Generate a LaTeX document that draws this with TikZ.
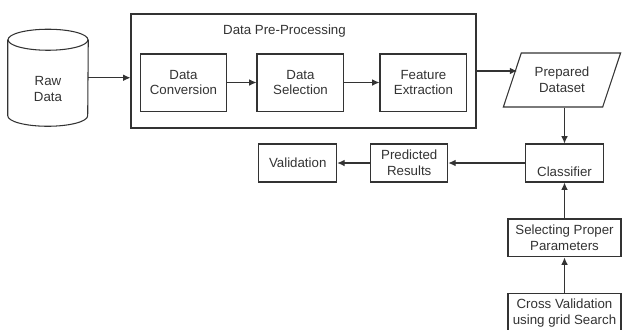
\documentclass[tikz,border=0pt]{standalone}
\usepackage{fontspec}
\setmainfont{Liberation Sans}
\usetikzlibrary{arrows.meta,shapes.geometric,positioning}

\tikzset{
  stage/.style={draw, line width=0.8pt, minimum width=2.3cm, minimum height=1.51cm, align=center, inner sep=2pt},
  result/.style={draw, line width=0.8pt, minimum width=2.04cm, minimum height=1.005cm, align=center, inner sep=2pt},
  flow/.style={->, line width=0.8pt},
}

\begin{document}
\begin{tikzpicture}[>={Latex[length=5.5pt,width=5pt]}, font=\fontsize{10}{12}\selectfont, color=black!80]
  \useasboundingbox (0,0) rectangle (16.457,-8.705);

  % database drum
  \node[minimum width=2.117cm, minimum height=2.553cm, inner sep=0pt] (raw) at (1.27,-2.057) {};
  \draw[line width=0.8pt] ([yshift=-0.278cm]raw.north) ellipse[x radius=1.058cm, y radius=0.278cm];
  \draw[line width=0.8pt] ([yshift=-0.278cm]raw.north west) -- ([yshift=0.278cm]raw.south west)
    arc[start angle=180, end angle=360, x radius=1.058cm, y radius=0.278cm] -- ([yshift=-0.278cm]raw.north east);
  \node[align=center] (rawtext) at ([yshift=-0.3cm]raw.center) {Raw\\Data};

  \node[draw, line width=0.8pt, minimum width=9.128cm, minimum height=3.016cm] (prepro) at (8.03,-1.878) {};
  \node (title) at (7.527,-0.82) {Data Pre-Processing};
  \node[stage] (conv) at (4.855,-2.183) {Data\\Conversion};
  \node[stage, right=0.767cm of conv] (sel) {Data\\Selection};
  \node[stage, right=0.926cm of sel] (feat) {Feature\\Extraction};

  \node[draw, trapezium, trapezium stretches=true, trapezium left angle=66, trapezium right angle=114, line width=0.8pt, minimum width=3.122cm, minimum height=1.429cm, align=center, inner sep=1pt] (dataset) at (14.869,-2.117) {Prepared\\Dataset};

  \node[result, text height=21pt, text depth=1pt, inner ysep=3.3pt, minimum height=0pt] (clf) at (14.936,-4.313) {Classifier};
  \node[result, left=2.04cm of clf] (pred) {Predicted\\Results};
  \node[result, minimum width=2.064cm, left=0.87cm of pred] (valid) {Validation};
  \node[result, minimum width=2.99cm, below=0.95cm of clf] (param) {Selecting Proper\\Parameters};
  \node[result, minimum width=2.99cm, below=0.95cm of param] (cv) {Cross Validation\\using grid Search};

  \draw[flow] (raw.east) -- (raw.east -| prepro.west);
  \draw[flow] (conv) -- (sel);
  \draw[flow] (sel) -- (feat);
  \draw[flow] (prepro.east) -- ([xshift=4pt]prepro.east -| dataset.west);
  \draw[flow] (clf.north |- dataset.south) -- (clf.north);
  \draw[flow] (clf) -- (pred);
  \draw[flow] (pred) -- (valid);
  \draw[flow] (param) -- (clf);
  \draw[flow] (cv) -- (param);
\end{tikzpicture}
\end{document}
